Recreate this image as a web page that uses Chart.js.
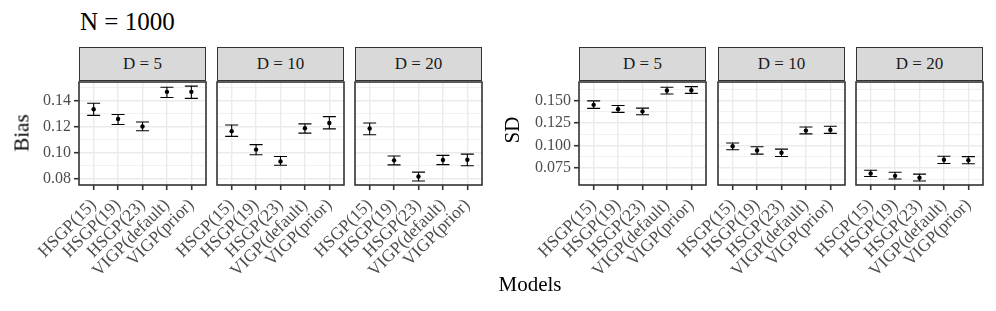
<!DOCTYPE html>
<html>
<head>
<meta charset="utf-8">
<script src="https://cdn.jsdelivr.net/npm/chart.js@4/dist/chart.umd.min.js"></script>
<style>
  body { margin: 0; background: #fff; }
  #wrap { position: relative; width: 996px; height: 311px; overflow: hidden; font-family: 'Liberation Serif', serif; }
  .panel { position: absolute; top: 78px; }
  .strip { position: absolute; top: 47px; height: 34px; width: 127px; box-sizing: border-box;
           background: #d9d9d9; border: 1.5px solid #333; color: #1a1a1a; font-size: 17px;
           text-align: center; line-height: 31px; z-index: 2; }
  .txt { position: absolute; color: #000; white-space: nowrap; z-index: 3; }
</style>
</head>
<body>
<div id="wrap">
  <div class="txt" style="left:80px; top:8px; font-size:25px;">N = 1000</div>
  <div class="txt" style="left:22px; top:133px; font-size:21px; transform: translate(-50%,-50%) rotate(-90deg);">Bias</div>
  <div class="txt" style="left:512px; top:130px; font-size:21px; transform: translate(-50%,-50%) rotate(-90deg);">SD</div>
  <div class="txt" style="left:530px; top:272px; font-size:21px; transform: translateX(-50%);">Models</div>
</div>
<script>
// data
const models = ['HSGP(15)', 'HSGP(19)', 'HSGP(23)', 'VIGP(default)', 'VIGP(prior)'];
const dims = [5, 10, 20];

const biasMean = [
    [0.1336, 0.1261, 0.1203, 0.1470, 0.1470],
    [0.1167, 0.1025, 0.0934, 0.1190, 0.1230],
    [0.1188, 0.0942, 0.0818, 0.0945, 0.0947]
];
const biasLower = [
    [0.1289, 0.1218, 0.1170, 0.1427, 0.1420],
    [0.1127, 0.0985, 0.0904, 0.1152, 0.1185],
    [0.1139, 0.0907, 0.0783, 0.0909, 0.0900]
];
const biasUpper = [
    [0.1382, 0.1296, 0.1238, 0.1506, 0.1514],
    [0.1215, 0.1063, 0.0972, 0.1223, 0.1279],
    [0.1230, 0.0975, 0.0851, 0.0980, 0.0990]
];

const sdMean = [
    [0.1453, 0.1405, 0.1380, 0.1612, 0.1616],
    [0.0992, 0.0945, 0.0920, 0.1166, 0.1174],
    [0.0689, 0.0663, 0.0641, 0.0842, 0.0837]
];
const sdLower = [
    [0.1413, 0.1369, 0.1343, 0.1573, 0.1580],
    [0.0953, 0.0905, 0.0878, 0.1130, 0.1135],
    [0.0656, 0.0627, 0.0605, 0.0801, 0.0798]
];
const sdUpper = [
    [0.1497, 0.1445, 0.1416, 0.1649, 0.1656],
    [0.1029, 0.0986, 0.0960, 0.1207, 0.1214],
    [0.0725, 0.0703, 0.0682, 0.0881, 0.0877]
];

const biasTicks = [0.08, 0.10, 0.12, 0.14];
const biasMinor = [0.09, 0.11, 0.13, 0.15];
const sdTicks = [0.075, 0.100, 0.125, 0.150];
const sdMinor = [0.0625, 0.0875, 0.1125, 0.1375, 0.1625];

Chart.defaults.font.family = "'Liberation Serif', serif";

const YW = 70;        // room left of each panel for y labels / overflowing x labels
const PW = 127;       // panel width

// error bars drawn through the chart scales
const errorBars = {
    id: 'errorBars',
    afterDatasetsDraw(chart) {
        const ds = chart.data.datasets[0];
        const x = chart.scales.x, y = chart.scales.y;
        const ctx = chart.ctx;
        ctx.save();
        ctx.strokeStyle = '#000';
        ctx.lineWidth = 1.1;
        ds.data.forEach((p, i) => {
            const px = x.getPixelForValue(p.x);
            const top = y.getPixelForValue(ds.upper[i]);
            const bot = y.getPixelForValue(ds.lower[i]);
            ctx.beginPath();
            ctx.moveTo(px, top); ctx.lineTo(px, bot);
            ctx.moveTo(px - 6.5, top); ctx.lineTo(px + 6.5, top);
            ctx.moveTo(px - 6.5, bot); ctx.lineTo(px + 6.5, bot);
            ctx.stroke();
        });
        ctx.restore();
    }
};

// panel border like theme_bw
const panelBorder = {
    id: 'panelBorder',
    afterDraw(chart) {
        const a = chart.chartArea;
        const ctx = chart.ctx;
        ctx.save();
        ctx.strokeStyle = '#333333';
        ctx.lineWidth = 1.6;
        ctx.strokeRect(a.left, a.top, a.right - a.left, a.bottom - a.top);
        ctx.restore();
    }
};

function makePanel(left, means, lowers, uppers, yMin, yMax, major, minor, decimals, showY, dLabel) {
    const wrap = document.getElementById('wrap');

    const strip = document.createElement('div');
    strip.className = 'strip';
    strip.style.left = left + 'px';
    strip.textContent = 'D = ' + dLabel;
    wrap.appendChild(strip);

    const box = document.createElement('div');
    box.className = 'panel';
    box.style.left = (left - YW) + 'px';
    const canvas = document.createElement('canvas');
    canvas.width = YW + PW + 4;
    canvas.height = 207;
    box.appendChild(canvas);
    wrap.appendChild(box);

    const points = means.map((v, i) => ({ x: i + 1, y: v }));

    new Chart(canvas, {
        type: 'scatter',
        data: {
            datasets: [{
                data: points,
                lower: lowers,
                upper: uppers,
                backgroundColor: '#000',
                borderColor: '#000',
                pointRadius: 2.2,
                borderWidth: 0
            }]
        },
        plugins: [errorBars, panelBorder],
        options: {
            responsive: false,
            animation: false,
            layout: { padding: { top: 2, right: 4, left: 0, bottom: 0 } },
            plugins: { legend: { display: false }, tooltip: { enabled: false } },
            scales: {
                x: {
                    type: 'linear',
                    min: 0.4,
                    max: 5.6,
                    afterBuildTicks: (s) => { s.ticks = models.map((m, i) => ({ value: i + 1 })); },
                    afterFit: (s) => { s.height = 100; s.paddingLeft = 0; s.paddingRight = 0; },
                    border: { display: false },
                    grid: { color: '#ebebeb', lineWidth: 1.4, tickLength: 5, tickColor: '#333333', tickWidth: 1.6 },
                    ticks: {
                        autoSkip: false,
                        minRotation: 45,
                        maxRotation: 45,
                        padding: 5,
                        color: '#4d4d4d',
                        font: { size: 17.5 },
                        callback: (v) => models[Math.round(v) - 1]
                    }
                },
                y: {
                    min: yMin,
                    max: yMax,
                    afterBuildTicks: (s) => {
                        s.ticks = major.map(v => ({ value: v, major: true }))
                            .concat(minor.map(v => ({ value: v, major: false })))
                            .sort((a, b) => a.value - b.value);
                    },
                    afterFit: (s) => { s.width = YW; s.paddingTop = 0; s.paddingBottom = 0; },
                    border: { display: false },
                    grid: {
                        color: '#ebebeb',
                        lineWidth: (c) => (c.tick && c.tick.major) ? 1.4 : 0.7,
                        drawTicks: showY,
                        tickLength: 5,
                        tickWidth: 1.6,
                        tickColor: (c) => (c.tick && c.tick.major) ? '#333333' : 'rgba(0,0,0,0)'
                    },
                    ticks: {
                        display: showY,
                        autoSkip: false,
                        padding: 3,
                        color: '#4d4d4d',
                        font: { size: 16 },
                        callback: (v, i, ticks) => ticks[i].major ? v.toFixed(decimals) : ''
                    }
                }
            }
        }
    });
}

const biasLefts = [79, 217, 355];
const sdLefts = [579, 718, 856];

dims.forEach((d, k) => {
    makePanel(biasLefts[k], biasMean[k], biasLower[k], biasUpper[k], 0.0752, 0.1546,
        biasTicks, biasMinor, 2, k === 0, d);
    makePanel(sdLefts[k], sdMean[k], sdLower[k], sdUpper[k], 0.0561, 0.1707,
        sdTicks, sdMinor, 3, k === 0, d);
});
</script>
</body>
</html>
